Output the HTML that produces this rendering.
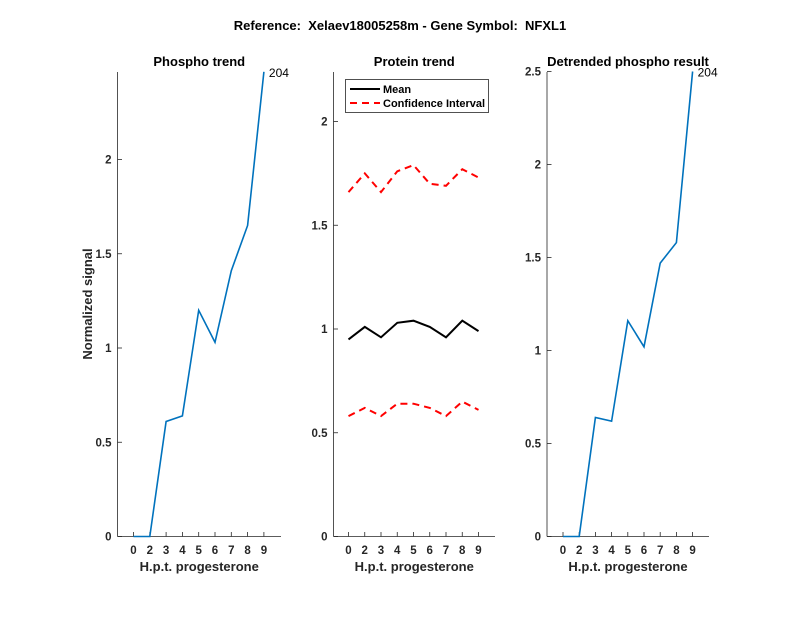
<!DOCTYPE html>
<html><head><meta charset="utf-8"><style>
html,body{margin:0;padding:0;background:#fff;}
svg{display:block;font-family:"Liberation Sans",Arial,sans-serif;}
</style></head><body>
<svg id="s" width="800" height="618" xmlns="http://www.w3.org/2000/svg"></svg>
<script>
const s=document.getElementById('s');let h='';
h+='<rect width="800" height="618" fill="#fff"/>';
h+='<text x="400" y="30" text-anchor="middle" font-size="13" font-weight="bold" fill="#000" style="white-space:pre">Reference:  Xelaev18005258m - Gene Symbol:  NFXL1</text>';
function panel(ax,axR,x0,dx,y0,ky,yticks,ytop,title,series,lab){
  h+=`<line x1="${ax}" y1="${ytop}" x2="${ax}" y2="536.5" stroke="#262626" stroke-width="0.8"/>`;
  h+=`<line x1="${ax}" y1="536.5" x2="${axR}" y2="536.5" stroke="#262626" stroke-width="0.8"/>`;
  const labs=[0,2,3,4,5,6,7,8,9];
  labs.forEach((l,i)=>{const x=x0+dx*i;h+=`<line x1="${x}" y1="536.5" x2="${x}" y2="532" stroke="#262626" stroke-width="0.8"/><text x="${x}" y="554" text-anchor="middle" font-size="11.5" fill="#262626" font-weight="bold">${l}</text>`;});
  yticks.forEach(t=>{const y=y0-ky*t;h+=`<line x1="${ax}" y1="${y}" x2="${ax+4.5}" y2="${y}" stroke="#262626" stroke-width="0.8"/><text x="${ax-6}" y="${y+4}" text-anchor="end" font-size="11.5" fill="#262626" font-weight="bold">${t}</text>`;});
  h+=`<text x="${(ax+axR)/2}" y="66" text-anchor="middle" font-size="13" font-weight="bold" fill="#000">${title}</text>`;
  h+=`<text x="${(ax+axR)/2}" y="571" text-anchor="middle" font-size="13" font-weight="bold" fill="#262626">H.p.t. progesterone</text>`;
  series.forEach(([d,c,dash,w])=>{const p=d.map((v,i)=>`${(x0+dx*i).toFixed(1)},${(y0-ky*v).toFixed(1)}`).join(' ');
    h+=`<polyline points="${p}" fill="none" stroke="${c}" stroke-width="${w}" ${dash?'stroke-dasharray="7,5"':''}/>`;});
  if(lab){const d=series[0][0];h+=`<text x="${x0+dx*8+5}" y="${y0-ky*d[8]+5}" font-size="12" fill="#000">204</text>`;}
}
panel(117.5,281,133.5,16.3,536.5,188.5,[0,0.5,1,1.5,2],72,'Phospho trend',
 [[[0,0,0.61,0.64,1.20,1.03,1.41,1.65,2.465],'#0072BD',false,1.6]],true);
panel(333.5,495,348.5,16.25,536.5,207.5,[0,0.5,1,1.5,2],72,'Protein trend',
 [[[0.95,1.01,0.96,1.03,1.04,1.01,0.96,1.04,0.99],'#000',false,2],
  [[1.66,1.75,1.66,1.76,1.79,1.70,1.69,1.77,1.73],'#f00',true,2],
  [[0.58,0.62,0.58,0.64,0.64,0.62,0.58,0.65,0.61],'#f00',true,2]],false);
panel(547,709,563,16.2,536.5,186,[0,0.5,1,1.5,2,2.5],72,'Detrended phospho result',
 [[[0,0,0.64,0.62,1.16,1.02,1.47,1.58,2.5],'#0072BD',false,1.6]],true);
h+='<rect x="345.5" y="79.5" width="143" height="33" fill="#fff" stroke="#262626" stroke-width="0.8"/>';
h+='<line x1="350" y1="89" x2="380" y2="89" stroke="#000" stroke-width="2"/><text x="383" y="93" font-size="11" font-weight="bold" fill="#000">Mean</text>';
h+='<line x1="350" y1="103" x2="380" y2="103" stroke="#f00" stroke-width="2" stroke-dasharray="7,5"/><text x="383" y="107" font-size="11" font-weight="bold" fill="#000">Confidence Interval</text>';
h+='<text transform="translate(92,304) rotate(-90)" text-anchor="middle" font-size="13" font-weight="bold" fill="#262626">Normalized signal</text>';
s.innerHTML=h;
</script>
</body></html>
